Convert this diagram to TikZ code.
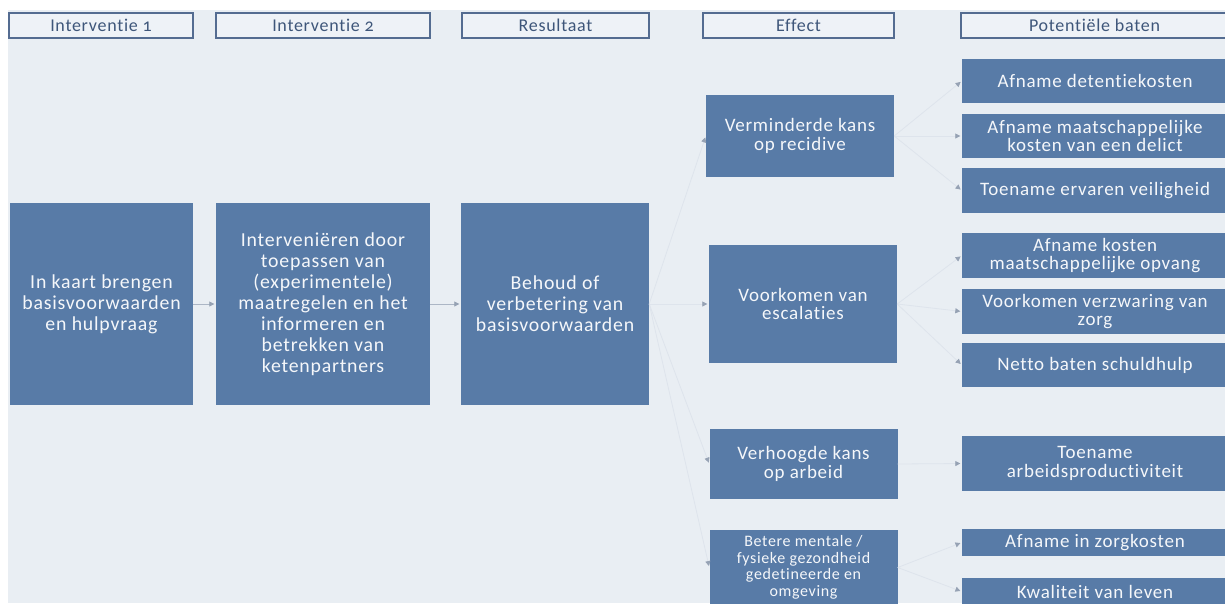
\documentclass[tikz,border=0pt]{standalone}
\usepackage{fontspec}
\setmainfont{Carlito}[LetterSpace=4, Ligatures={NoCommon}, Numbers=OldStyle]
\usetikzlibrary{arrows.meta}
\definecolor{bgc}{RGB}{233,238,243}
\definecolor{boxblue}{RGB}{88,123,167}
\definecolor{hdrline}{RGB}{84,108,145}
\definecolor{hdrfill}{RGB}{238,242,247}
\definecolor{hdrtext}{RGB}{62,86,122}
\definecolor{connc}{RGB}{222,228,236}
\definecolor{connd}{RGB}{172,182,197}
\definecolor{arrowc}{RGB}{150,162,180}
\tikzset{
  hdr/.style={draw=hdrline, line width=1.2pt, fill=hdrfill, text=hdrtext, inner sep=0pt,
    minimum height=25pt, font=\fontsize{18}{20}\selectfont},
  bluebox/.style={fill=boxblue, text=white!94!boxblue, align=center, inner sep=0pt,
    font=\fontsize{19}{18.5}\selectfont},
  mainbox/.style={bluebox, minimum height=202pt, font=\fontsize{19.8}{21}\selectfont},
  effbox/.style={bluebox, minimum width=188pt},
  batbox/.style={bluebox, minimum width=266pt},
  conn/.style={draw=connc, line width=0.8pt, shorten >=1.5pt,
    -{Triangle[length=5pt,width=5pt,color=arrowc]}},
  conndark/.style={conn, draw=connd}
}
\begin{document}
\begin{tikzpicture}[x=1pt, y=-1pt]
\useasboundingbox (0,0) rectangle (1225,603);
\clip (0,0) rectangle (1225,603);
\fill[white] (0,0) rectangle (1225,603);
\fill[bgc] (8,10) rectangle (1225,603);

% headers
\node[hdr, minimum width=184pt] (h1) at (101,25.5) {Interventie 1};
\node[hdr, minimum width=214pt] (h2) at (323,25.5) {Interventie 2};
\node[hdr, minimum width=187pt] (h3) at (555.5,25.5) {Resultaat};
\node[hdr, minimum width=191pt] (h4) at (798.5,25.5) {Effect};
\node[hdr, minimum width=267pt] (h5) at (1094.5,25.5) {Potentiële baten};

% main boxes
\node[mainbox, minimum width=183pt] (b1) at (101.5,304) {In kaart brengen\\basisvoorwaarden\\en hulpvraag};
\node[mainbox, minimum width=214pt] (b2) at (323,304) {Interveniëren door\\toepassen van\\(experimentele)\\maatregelen en het\\informeren en\\betrekken van\\ketenpartners};
\node[mainbox, minimum width=188pt] (b3) at (555,304) {Behoud of\\verbetering van\\basisvoorwaarden};

% effect boxes
\node[effbox, minimum height=82pt] (e1) at (800,136) {Verminderde kans\\op recidive};
\node[effbox, minimum height=118pt] (e2) at (803,304) {Voorkomen van\\escalaties};
\node[effbox, minimum height=70pt] (e3) at (803.5,464) {Verhoogde kans\\op arbeid};
\node[effbox, minimum height=75pt, font=\fontsize{16}{16.5}\selectfont] (e4) at (803.5,567.5) {Betere mentale /\\fysieke gezondheid\\gedetineerde en\\omgeving};

% baten boxes
\node[batbox, minimum height=44pt] (p1) at (1095,81) {Afname detentiekosten};
\node[batbox, minimum height=44pt] (p2) at (1095,136) {Afname maatschappelijke\\kosten van een delict};
\node[batbox, minimum height=45pt] (p3) at (1095,190.5) {Toename ervaren veiligheid};
\node[batbox, minimum height=45pt] (p4) at (1095,255.5) {Afname kosten\\maatschappelijke opvang};
\node[batbox, minimum height=45pt] (p5) at (1095,311.5) {Voorkomen verzwaring van\\zorg};
\node[batbox, minimum height=44pt] (p6) at (1095,365) {Netto baten schuldhulp};
\node[batbox, minimum height=55pt] (p7) at (1095,463.5) {Toename\\arbeidsproductiviteit};
\node[batbox, minimum height=27pt] (p8) at (1095,542.5) {Afname in zorgkosten};
\node[batbox, minimum height=27pt] (p9) at (1095,591.5) {Kwaliteit van leven};

% connectors
\draw[conndark] (b1.east) -- (b2.west);
\draw[conndark] (b2.east) -- (b3.west);
\foreach \e in {e1,e2,e3,e4} \draw[conn] (b3.east) -- (\e.west);
\foreach \p in {p1,p2,p3} \draw[conn] (e1.east) -- (\p.west);
\foreach \p in {p4,p5,p6} \draw[conn] (e2.east) -- (\p.west);
\draw[conn] (e3.east) -- (p7.west);
\foreach \p in {p8,p9} \draw[conn] (e4.east) -- (\p.west);
\end{tikzpicture}
\end{document}
